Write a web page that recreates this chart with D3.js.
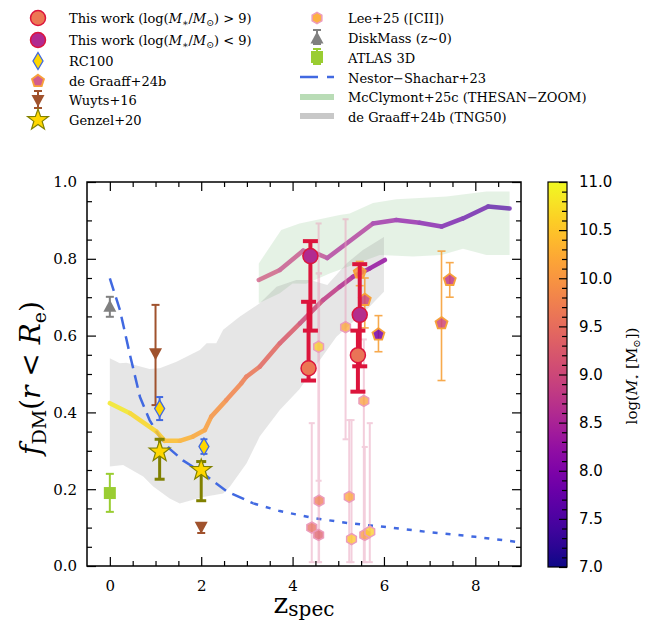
<!DOCTYPE html>
<html>
<head>
<meta charset="utf-8">
<script src="https://cdn.jsdelivr.net/npm/d3@7"></script>
<style>
  html, body { margin: 0; padding: 0; background: #fff; }
  svg { display: block; }
</style>
</head>
<body>
<div id="chart"></div>
<script>
/* Dark matter fraction vs redshift, coloured by stellar mass. */

// ---- data (z, f_DM, error range, log stellar mass) ----
var thisWorkHigh = [
  { z: 4.35, f: 0.515, lo: 0.483, hi: 0.688, m: 9.65 },
  { z: 5.43, f: 0.549, lo: 0.454, hi: 0.613, m: 9.6 }
];
var thisWorkLow = [
  { z: 4.39, f: 0.807, lo: 0.613, hi: 0.846, m: 8.6 },
  { z: 5.47, f: 0.654, lo: 0.52, hi: 0.786, m: 8.65 }
];
var rc100 = [
  { z: 1.09, f: 0.41, lo: 0.38, hi: 0.44 },
  { z: 2.06, f: 0.311, lo: 0.292, hi: 0.33 }
];
var deGraaff = [
  { z: 5.47, f: 0.764, lo: 0.73, hi: 0.793, m: 10.0 },
  { z: 5.58, f: 0.693, lo: 0.62, hi: 0.75, m: 9.0 },
  { z: 5.88, f: 0.603, lo: 0.558, hi: 0.652, m: 7.9 },
  { z: 7.26, f: 0.632, lo: 0.483, hi: 0.82, m: 9.0 },
  { z: 7.44, f: 0.745, lo: 0.70, hi: 0.79, m: 8.8 }
];
var wuyts = [
  { z: 1.0, f: 0.554, lo: 0.419, hi: 0.68 },
  { z: 2.0, f: 0.102, lo: 0.086, hi: 0.108 }
];
var genzel = [
  { z: 1.09, f: 0.298, lo: 0.226, hi: 0.33 },
  { z: 2.0, f: 0.25, lo: 0.17, hi: 0.272 }
];
var lee = [
  { z: 4.42, f: 0.100, lo: 0.01, hi: 0.372, m: 9.5 },
  { z: 4.57, f: 0.081, lo: 0.01, hi: 0.892, m: 9.3 },
  { z: 4.58, f: 0.170, lo: 0.01, hi: 0.762, m: 9.7 },
  { z: 4.57, f: 0.571, lo: 0.222, hi: 0.762, m: 10.6 },
  { z: 5.16, f: 0.622, lo: 0.33, hi: 0.903, m: 10.2 },
  { z: 5.24, f: 0.180, lo: 0.01, hi: 0.38, m: 10.2 },
  { z: 5.29, f: 0.070, lo: 0.01, hi: 0.38, m: 10.5 },
  { z: 5.56, f: 0.430, lo: 0.01, hi: 0.59, m: 10.1 },
  { z: 5.58, f: 0.081, lo: 0.01, hi: 0.31, m: 10.0 },
  { z: 5.69, f: 0.089, lo: 0.01, hi: 0.372, m: 10.6 }
];
var diskMass = [{ z: 0.0, f: 0.675, lo: 0.649, hi: 0.701 }];
var atlas3d = [{ z: 0.0, f: 0.19, lo: 0.141, hi: 0.24 }];

// evolution tracks [z, f_DM, log M*]
var trackLow = [
  [0.0, 0.424, 10.9], [0.44, 0.398, 10.8], [1.02, 0.350, 10.6], [1.2, 0.326, 10.5],
  [1.53, 0.326, 10.35], [1.82, 0.337, 10.25], [2.08, 0.354, 10.15], [2.22, 0.389, 10.05],
  [2.55, 0.432, 9.9], [2.88, 0.476, 9.75], [2.99, 0.493, 9.7], [3.28, 0.519, 9.55],
  [3.72, 0.580, 9.35], [4.16, 0.632, 9.15], [4.67, 0.693, 8.9], [5.03, 0.727, 8.7],
  [5.32, 0.753, 8.55], [5.69, 0.775, 8.35], [6.02, 0.797, 8.2]
];
var trackHigh = [
  [3.26, 0.745, 9.1], [3.72, 0.771, 8.95], [4.23, 0.821, 8.8], [4.52, 0.814, 8.75],
  [4.76, 0.802, 8.7], [5.76, 0.892, 8.35], [6.27, 0.901, 8.2], [6.78, 0.894, 8.05],
  [7.26, 0.884, 7.9], [7.73, 0.905, 7.75], [8.28, 0.936, 7.6], [8.75, 0.931, 7.5]
];

// Nestor-Shachar+23 relation, measured part and extrapolation
var nestorSolid = [
  [0.0, 0.749], [0.22, 0.667], [0.44, 0.55], [0.66, 0.44], [0.87, 0.38], [1.1, 0.335],
  [1.31, 0.305], [1.6, 0.275], [2.0, 0.245], [2.55, 0.195], [3.14, 0.163]
];
var nestorExtrap = [
  [3.14, 0.163], [3.72, 0.143], [4.5, 0.124], [5.2, 0.112], [6.0, 0.102],
  [7.0, 0.088], [8.0, 0.076], [8.9, 0.063]
];

// simulation bands: upper edge then lower edge
var tngUpper = [
  [0, 0.541], [0.22, 0.528], [0.36, 0.529], [0.87, 0.513], [1.09, 0.515], [1.46, 0.532],
  [1.97, 0.5625], [2.12, 0.58], [2.33, 0.58], [2.48, 0.615], [2.84, 0.649], [3.28, 0.684],
  [3.65, 0.727], [4.08, 0.745], [4.38, 0.745], [4.76, 0.732], [5.18, 0.788], [5.54, 0.823],
  [6.0, 0.857]
];
var tngLower = [
  [6.0, 0.714], [5.62, 0.667], [4.96, 0.597], [4.5, 0.52], [4.15, 0.46], [3.72, 0.406],
  [3.28, 0.337], [2.99, 0.267], [2.63, 0.207], [2.48, 0.189], [2.04, 0.18], [1.53, 0.163],
  [1.31, 0.176], [0.95, 0.207], [0.73, 0.233], [0.29, 0.263], [0, 0.259]
];
var thesanUpper = [
  [3.26, 0.788], [3.75, 0.875], [4.15, 0.892], [5.03, 0.914], [5.25, 0.918], [5.76, 0.945],
  [6.27, 0.955], [7.37, 0.962], [8.24, 0.975], [8.75, 0.975]
];
var thesanLower = [
  [8.75, 0.81], [8.24, 0.81], [7.73, 0.826], [7.26, 0.81], [6.64, 0.806], [5.91, 0.81],
  [4.81, 0.762], [4.3, 0.735], [4.0, 0.736], [3.72, 0.71], [3.26, 0.684]
];

var xMajor = [0, 2, 4, 6, 8];
var yMajor = [0, 0.2, 0.4, 0.6, 0.8, 1.0];
var cbMajor = [7, 7.5, 8, 8.5, 9, 9.5, 10, 10.5, 11];

// ---- setup ----
var SERIF = "'DejaVu Serif', 'Liberation Serif', serif";
var W = 652, H = 621;
var svg = d3.select("#chart").append("svg")
  .attr("width", W).attr("height", H)
  .attr("font-family", SERIF);

var x = d3.scaleLinear().domain([-0.5, 9]).range([87, 521]);
var y = d3.scaleLinear().domain([0, 1]).range([566, 182]);
var massColor = function (m) { return d3.interpolatePlasma((m - 7) / 4); };

svg.append("clipPath").attr("id", "plotclip")
  .append("rect").attr("x", 87).attr("y", 182).attr("width", 434).attr("height", 384);

// ---- marker shapes ----
function poly(n, r, rot) {
  var pts = d3.range(n).map(function (i) {
    var a = rot + i * 2 * Math.PI / n;
    return [r * Math.cos(a), r * Math.sin(a)];
  });
  return "M" + pts.map(function (p) { return p[0].toFixed(2) + "," + p[1].toFixed(2); }).join("L") + "Z";
}
function star(R, r) {
  var pts = d3.range(10).map(function (i) {
    var a = -Math.PI / 2 + i * Math.PI / 5, rr = i % 2 ? r : R;
    return [rr * Math.cos(a), rr * Math.sin(a)];
  });
  return "M" + pts.map(function (p) { return p[0].toFixed(2) + "," + p[1].toFixed(2); }).join("L") + "Z";
}
function circ(r) {
  return "M" + r + ",0A" + r + "," + r + " 0 1,1 " + (-r) + ",0A" + r + "," + r + " 0 1,1 " + r + ",0Z";
}
var shape = {
  circle: circ(7.5),
  diamond: "M0,-8.5L5,0L0,8.5L-5,0Z",
  pentagon: poly(5, 6.3, -Math.PI / 2),
  hexagon: poly(6, 5.6, -Math.PI / 2),
  triDown: "M-6.5,-5L6.5,-5L0,7Z",
  triUp: "M-6.5,5L6.5,5L0,-7Z",
  square: "M-6,-6L6,-6L6,6L-6,6Z",
  star: star(11, 4.4)
};

var plot = svg.append("g").attr("clip-path", "url(#plotclip)");
var line = d3.line().x(function (d) { return x(d[0]); }).y(function (d) { return y(d[1]); });

// ---- bands ----
plot.append("path").attr("d", line(thesanUpper.concat(thesanLower)) + "Z")
  .attr("fill", "green").attr("fill-opacity", 0.1);
plot.append("path").attr("d", line(tngUpper.concat(tngLower)) + "Z")
  .attr("fill", "gray").attr("fill-opacity", 0.2);

// ---- Nestor-Shachar+23 ----
plot.append("path").attr("d", line(nestorSolid)).attr("fill", "none")
  .attr("stroke", "#4169e1").attr("stroke-width", 2.5).attr("stroke-dasharray", "13,7");
plot.append("path").attr("d", line(nestorExtrap)).attr("fill", "none")
  .attr("stroke", "#4169e1").attr("stroke-width", 2.5).attr("stroke-dasharray", "5,8");

// ---- mass-coloured tracks ----
function track(pts, op) {
  var segs = d3.pairs(pts);
  plot.append("g").attr("opacity", op).selectAll("line").data(segs).enter().append("line")
    .attr("x1", function (d) { return x(d[0][0]); }).attr("y1", function (d) { return y(d[0][1]); })
    .attr("x2", function (d) { return x(d[1][0]); }).attr("y2", function (d) { return y(d[1][1]); })
    .attr("stroke", function (d) { return massColor((d[0][2] + d[1][2]) / 2); })
    .attr("stroke-width", 4.5).attr("stroke-linecap", "round");
}
track(trackHigh, 0.7);
track(trackLow, 0.85);

// ---- errorbars + markers ----
function errorbars(data, color, lw, cap, op) {
  var g = plot.append("g").attr("stroke", color).attr("stroke-width", lw).attr("opacity", op || 1);
  g.selectAll(".v").data(data).enter().append("line")
    .attr("x1", function (d) { return x(d.z); }).attr("x2", function (d) { return x(d.z); })
    .attr("y1", function (d) { return y(d.lo); }).attr("y2", function (d) { return y(d.hi); });
  ["lo", "hi"].forEach(function (k) {
    g.selectAll(".c" + k).data(data).enter().append("line")
      .attr("x1", function (d) { return x(d.z) - cap / 2; }).attr("x2", function (d) { return x(d.z) + cap / 2; })
      .attr("y1", function (d) { return y(d[k]); }).attr("y2", function (d) { return y(d[k]); });
  });
}
function markers(data, path, fill, stroke, sw, op) {
  plot.append("g").selectAll("path").data(data).enter().append("path")
    .attr("d", path)
    .attr("transform", function (d) { return "translate(" + x(d.z) + "," + y(d.f) + ")"; })
    .attr("fill", fill).attr("fill-opacity", op || 1)
    .attr("stroke", stroke).attr("stroke-width", sw);
}

errorbars(diskMass, "#808080", 2, 8);
markers(diskMass, shape.triUp, "#808080", "none", 0);
errorbars(atlas3d, "#9acd32", 2, 8);
markers(atlas3d, shape.square, "#9acd32", "none", 0);
errorbars(wuyts, "#a0522d", 2, 8);
markers(wuyts, shape.triDown, "#a0522d", "none", 0);
errorbars(rc100, "#4169e1", 2, 7);
markers(rc100, shape.diamond, "#ffd700", "#4169e1", 1.3);
errorbars(genzel, "#808000", 3, 10);
markers(genzel, shape.star, "#ffd700", "#808000", 1.2);

errorbars(lee, "#e99fbb", 2, 6, 0.5);
markers(lee, shape.hexagon, function (d) { return massColor(d.m); }, "#ec9cbc", 1.5, 0.75);
errorbars(deGraaff, "#f7a13a", 1.6, 8, 0.9);
markers(deGraaff, shape.pentagon, function (d) { return massColor(d.m); }, "#f7a13a", 1.8, 0.85);

errorbars(thisWorkLow, "#dc143c", 4, 15);
errorbars(thisWorkHigh, "#dc143c", 4, 15);
markers(thisWorkLow, shape.circle, function (d) { return massColor(d.m); }, "#dc143c", 1.5);
markers(thisWorkHigh, shape.circle, function (d) { return massColor(d.m); }, "#dc143c", 1.5);

// ---- axes ----
function styleAxis(g) {
  g.select(".domain").remove();
  g.selectAll(".tick line").attr("stroke", "#000").attr("stroke-width", 1.2);
  g.attr("font-family", SERIF).attr("font-size", 15);
  g.selectAll(".tick text").attr("fill", "#000");
}
var xMinor = d3.range(0, 9, 0.5).filter(function (v) { return xMajor.indexOf(v) < 0; });
var yMinor = d3.range(0.05, 1, 0.05).filter(function (v) { return Math.abs(v * 5 - Math.round(v * 5)) > 1e-6; });

svg.append("g").attr("transform", "translate(0,566)")
  .call(d3.axisBottom(x).tickValues(xMajor).tickSize(-9).tickPadding(14).tickFormat(d3.format("d"))).call(styleAxis);
svg.append("g").attr("transform", "translate(0,566)")
  .call(d3.axisBottom(x).tickValues(xMinor).tickSize(-5).tickFormat("")).call(styleAxis);
svg.append("g").attr("transform", "translate(0,182)")
  .call(d3.axisTop(x).tickValues(xMajor).tickSize(-9).tickFormat("")).call(styleAxis);
svg.append("g").attr("transform", "translate(0,182)")
  .call(d3.axisTop(x).tickValues(xMinor).tickSize(-5).tickFormat("")).call(styleAxis);
svg.append("g").attr("transform", "translate(87,0)")
  .call(d3.axisLeft(y).tickValues(yMajor).tickSize(-9).tickPadding(10).tickFormat(d3.format(".1f"))).call(styleAxis);
svg.append("g").attr("transform", "translate(87,0)")
  .call(d3.axisLeft(y).tickValues(yMinor).tickSize(-5).tickFormat("")).call(styleAxis);
svg.append("g").attr("transform", "translate(521,0)")
  .call(d3.axisRight(y).tickValues(yMajor).tickSize(-9).tickFormat("")).call(styleAxis);
svg.append("g").attr("transform", "translate(521,0)")
  .call(d3.axisRight(y).tickValues(yMinor).tickSize(-5).tickFormat("")).call(styleAxis);

svg.append("rect").attr("x", 87).attr("y", 182).attr("width", 434).attr("height", 384)
  .attr("fill", "none").attr("stroke", "#000").attr("stroke-width", 1.5);

// axis titles
var xl = svg.append("text").attr("x", 304).attr("y", 613).attr("text-anchor", "middle")
  .attr("font-family", SERIF).attr("font-size", 28);
xl.append("tspan").text("z");
xl.append("tspan").attr("font-size", 20).attr("dy", 3).text("spec");

var yl = svg.append("text").attr("transform", "translate(40,378) rotate(-90)")
  .attr("text-anchor", "middle").attr("font-family", SERIF).attr("font-size", 28);
yl.append("tspan").attr("font-style", "italic").text("f");
yl.append("tspan").attr("font-size", 19).attr("dy", 6).text("DM");
yl.append("tspan").attr("dy", -6).text("(");
yl.append("tspan").attr("font-style", "italic").text("r");
yl.append("tspan").text(" < ");
yl.append("tspan").attr("font-style", "italic").text("R");
yl.append("tspan").attr("font-size", 19).attr("dy", 6).text("e");
yl.append("tspan").attr("dy", -6).text(")");

// ---- colorbar ----
var cb = d3.scaleLinear().domain([7, 11]).range([567, 182]);
var grad = svg.append("defs").append("linearGradient").attr("id", "plasma")
  .attr("x1", 0).attr("y1", 1).attr("x2", 0).attr("y2", 0);
d3.range(0, 1.0001, 0.05).forEach(function (t) {
  grad.append("stop").attr("offset", t).attr("stop-color", d3.interpolatePlasma(t));
});
svg.append("rect").attr("x", 548).attr("y", 182).attr("width", 19).attr("height", 385)
  .attr("fill", "url(#plasma)").attr("stroke", "#000").attr("stroke-width", 1.2);
var cbMinor = d3.range(7.1, 11, 0.1).filter(function (v) { return Math.abs(v * 2 - Math.round(v * 2)) > 1e-6; });
svg.append("g").attr("transform", "translate(567,0)")
  .call(d3.axisRight(cb).tickValues(cbMajor).tickSize(-8).tickPadding(12).tickFormat(d3.format(".1f")))
  .call(styleAxis).attr("font-family", "'DejaVu Sans', sans-serif");
svg.append("g").attr("transform", "translate(567,0)")
  .call(d3.axisRight(cb).tickValues(cbMinor).tickSize(-5).tickFormat("")).call(styleAxis);

var cl = svg.append("text").attr("transform", "translate(637,376) rotate(-90)")
  .attr("text-anchor", "middle").attr("font-family", SERIF).attr("font-size", 15);
cl.append("tspan").text("log(");
cl.append("tspan").attr("font-style", "italic").text("M");
cl.append("tspan").attr("font-size", 10).attr("dy", 3).text("\u22c6");
cl.append("tspan").attr("dy", -3).text(" [M");
cl.append("tspan").attr("font-size", 10).attr("dy", 3).text("\u2299");
cl.append("tspan").attr("dy", -3).text("])");

// ---- legend ----
var leg = svg.append("g").attr("font-family", SERIF).attr("font-size", 13);
function legText(tx, ty, parts) {
  var t = leg.append("text").attr("x", tx).attr("y", ty).attr("dy", "0.35em");
  parts.forEach(function (p) {
    var s = t.append("tspan").text(p[0]);
    if (p[1] === "i") s.attr("font-style", "italic");
    if (p[1] === "sub") s.attr("font-size", 9.5).attr("dy", 3);
    if (p[1] === "up") s.attr("dy", -3);
  });
}
function legMark(cx, cy, path, fill, stroke, sw) {
  leg.append("path").attr("d", path).attr("transform", "translate(" + cx + "," + cy + ")")
    .attr("fill", fill).attr("stroke", stroke).attr("stroke-width", sw);
}
function legErr(cx, y1, y2, color, lw, cap) {
  var g = leg.append("g").attr("stroke", color).attr("stroke-width", lw);
  g.append("line").attr("x1", cx).attr("x2", cx).attr("y1", y1).attr("y2", y2);
  g.append("line").attr("x1", cx - cap / 2).attr("x2", cx + cap / 2).attr("y1", y1).attr("y2", y1);
  g.append("line").attr("x1", cx - cap / 2).attr("x2", cx + cap / 2).attr("y1", y2).attr("y2", y2);
}

var lx = 38, ltx = 69, rx = 317, rtx = 348;
legMark(lx, 18, shape.circle, massColor(9.65), "#dc143c", 1.5);
legText(ltx, 18, [["This work (log("], ["M", "i"], ["\u2217", "sub"], ["/", "up"], ["M", "i"], ["\u2299", "sub"], [") > 9)", "up"]]);
legMark(lx, 40, shape.circle, massColor(8.6), "#dc143c", 1.5);
legText(ltx, 40, [["This work (log("], ["M", "i"], ["\u2217", "sub"], ["/", "up"], ["M", "i"], ["\u2299", "sub"], [") < 9)", "up"]]);
legMark(lx, 61, shape.diamond, "#ffd700", "#4169e1", 1.3);
legText(ltx, 61, [["RC100"]]);
legMark(lx, 81, shape.pentagon, "#d45d8c", "#f7a13a", 1.8);
legText(ltx, 81, [["de Graaff+24b"]]);
legErr(lx, 91, 108, "#a0522d", 2, 8);
legMark(lx, 100, shape.triDown, "#a0522d", "none", 0);
legText(ltx, 100, [["Wuyts+16"]]);
legMark(lx, 120, shape.star, "#ffd700", "#808000", 1.2);
legText(ltx, 120, [["Genzel+20"]]);

legMark(rx, 18, shape.hexagon, "#fdb042", "#ec9cbc", 1.5);
legText(rtx, 18, [["Lee+25 ([CII])"]]);
legErr(rx, 30, 44, "#808080", 2, 8);
legMark(rx, 38.5, shape.triUp, "#808080", "none", 0);
legText(rtx, 38.5, [["DiskMass (z~0)"]]);
legErr(rx, 49, 64, "#9acd32", 2, 8);
legMark(rx, 57, shape.square, "#9acd32", "none", 0);
legText(rtx, 58, [["ATLAS 3D"]]);
leg.append("line").attr("x1", 300).attr("x2", 334).attr("y1", 77).attr("y2", 77)
  .attr("stroke", "#4169e1").attr("stroke-width", 2.5).attr("stroke-dasharray", "18,9");
legText(rtx, 78, [["Nestor\u2212Shachar+23"]]);
leg.append("line").attr("x1", 300).attr("x2", 334).attr("y1", 97).attr("y2", 97)
  .attr("stroke", "#b9dcb6").attr("stroke-width", 6);
legText(rtx, 97.5, [["McClymont+25c (THESAN\u2212ZOOM)"]]);
leg.append("line").attr("x1", 300).attr("x2", 334).attr("y1", 116).attr("y2", 116)
  .attr("stroke", "#c8c8c8").attr("stroke-width", 6);
legText(rtx, 117, [["de Graaff+24b (TNG50)"]]);
</script>
</body>
</html>
